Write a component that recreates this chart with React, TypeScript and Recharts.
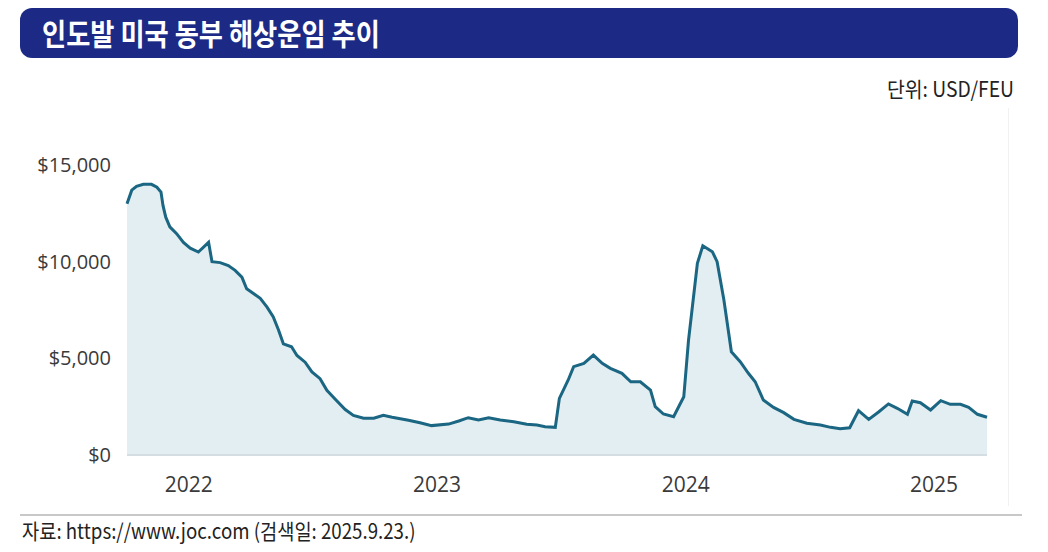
import { AreaChart, Area, XAxis, YAxis } from "recharts";

// India -> US East Coast ocean freight rate (USD/FEU)
const dates = [
  "2022-04-01", "2022-04-08", "2022-04-15", "2022-04-25", "2022-05-07", "2022-05-15",
  "2022-05-21", "2022-05-24", "2022-05-28", "2022-06-03", "2022-06-13", "2022-06-23",
  "2022-07-03", "2022-07-15", "2022-07-30", "2022-08-04", "2022-08-16", "2022-08-28",
  "2022-09-07", "2022-09-17", "2022-09-24", "2022-10-04", "2022-10-14", "2022-10-24",
  "2022-11-02", "2022-11-10", "2022-11-17", "2022-11-29", "2022-12-07", "2022-12-19",
  "2022-12-29", "2023-01-10", "2023-01-20", "2023-02-01", "2023-02-16", "2023-02-28",
  "2023-03-15", "2023-03-30", "2023-04-13", "2023-04-26", "2023-05-20", "2023-06-06",
  "2023-06-23", "2023-07-18", "2023-08-02", "2023-08-16", "2023-08-31", "2023-09-15",
  "2023-10-02", "2023-10-22", "2023-11-10", "2023-11-25", "2023-12-07", "2023-12-22",
  "2023-12-28", "2024-01-10", "2024-01-18", "2024-02-02", "2024-02-16", "2024-02-29",
  "2024-03-12", "2024-03-29", "2024-04-11", "2024-04-25", "2024-05-10", "2024-05-17",
  "2024-05-29", "2024-06-13", "2024-06-28", "2024-07-05", "2024-07-18", "2024-07-26",
  "2024-08-09", "2024-08-16", "2024-08-26", "2024-09-06", "2024-09-19", "2024-10-01",
  "2024-10-11", "2024-10-23", "2024-11-07", "2024-11-22", "2024-12-07", "2024-12-26",
  "2025-01-15", "2025-01-30", "2025-02-13", "2025-02-27", "2025-03-12", "2025-03-27",
  "2025-04-11", "2025-04-25", "2025-05-08", "2025-05-23", "2025-05-30", "2025-06-11",
  "2025-06-26", "2025-07-11", "2025-07-25", "2025-08-09", "2025-08-21", "2025-09-03",
  "2025-09-17",
];

const rates = [
  13000, 13700, 13900, 14000, 14000, 13850,
  13600, 12900, 12300, 11800, 11450, 11000,
  10700, 10500, 11000, 10000, 9950, 9800,
  9550, 9200, 8600, 8350, 8100, 7650,
  7150, 6450, 5750, 5600, 5150, 4800,
  4300, 3950, 3350, 2900, 2350, 2050,
  1900, 1900, 2050, 1950, 1800, 1670,
  1520, 1600, 1760, 1930, 1810, 1930,
  1810, 1720, 1590, 1550, 1465, 1430,
  2930, 3880, 4570, 4740, 5170, 4740,
  4480, 4225, 3790, 3790, 3360, 2500,
  2120, 1980, 3015, 5950, 9915, 10825,
  10515, 10000, 8020, 5340, 4825, 4225,
  3790, 2845, 2460, 2190, 1845, 1640,
  1550, 1430, 1360, 1410, 2290, 1845,
  2240, 2640, 2415, 2105, 2790, 2705,
  2330, 2810, 2620, 2620, 2470, 2105,
  1950,
];

const yearLabels = ["2022", "2023", "2024", "2025"];
const yTicks = [0, 5000, 10000, 15000];

const toTime = (d: string) => Date.parse(d + "T00:00:00Z");

const data = dates.map((d, i) => ({ t: toTime(d), rate: rates[i] }));
// year labels sit at mid-year
const xTicks = yearLabels.map((y) => toTime(`${y}-07-01`));

const tickFont = "'Open Sans', 'Noto Sans', sans-serif";
const krFont = "'Noto Sans CJK KR', 'Noto Sans', sans-serif";

export default function App() {
  return (
    <div
      style={{
        position: "absolute",
        left: 0,
        top: 0,
        width: 1048,
        height: 552,
        background: "#fff",
        overflow: "hidden",
      }}
    >
      {/* title bar */}
      <div
        style={{
          position: "absolute",
          left: 20,
          top: 8,
          width: 998,
          height: 50,
          borderRadius: 12,
          background: "#1c2a86",
        }}
      >
        <span
          style={{
            position: "absolute",
            left: 22,
            top: 5,
            display: "inline-block",
            whiteSpace: "nowrap",
            color: "#fff",
            fontFamily: krFont,
            fontWeight: 700,
            fontSize: 30,
            lineHeight: "38px",
            transform: "scaleX(0.875)",
            transformOrigin: "left center",
          }}
        >
          인도발 미국 동부 해상운임 추이
        </span>
      </div>

      <span
        style={{
          position: "absolute",
          right: 34,
          top: 74,
          display: "inline-block",
          whiteSpace: "nowrap",
          color: "#222",
          fontFamily: krFont,
          fontSize: 21,
          lineHeight: "28px",
          transform: "scaleX(0.92)",
          transformOrigin: "right center",
        }}
      >
        단위: USD/FEU
      </span>

      {/* faint frame edge of the chart picture */}
      <div
        style={{
          position: "absolute",
          left: 1008,
          top: 108,
          width: 1,
          height: 398,
          background: "#f1f1f1",
        }}
      />

      <div style={{ position: "absolute", left: 0, top: 0 }}>
        <AreaChart
          width={1048}
          height={552}
          data={data}
          margin={{ top: 165, right: 61, bottom: 57, left: 17 }}
        >
          <XAxis
            dataKey="t"
            type="number"
            scale="time"
            domain={[data[0].t, data[data.length - 1].t]}
            ticks={xTicks}
            tickFormatter={(v) => String(new Date(v).getUTCFullYear())}
            axisLine={{ stroke: "#d4dde1", strokeWidth: 2 }}
            tickLine={false}
            tickSize={0}
            tickMargin={22}
            height={40}
            tick={{ fill: "#3a3a3a", fontSize: 21, fontFamily: tickFont }}
            interval={0}
          />
          <YAxis
            domain={[0, 15000]}
            ticks={yTicks}
            width={110}
            axisLine={false}
            tickLine={false}
            tickSize={0}
            tickMargin={16}
            tick={{ fill: "#3a3a3a", fontSize: 20, fontFamily: tickFont }}
            tickFormatter={(v) => `$${Number(v).toLocaleString("en-US")}`}
          />
          <Area
            type="linear"
            dataKey="rate"
            stroke="#1b6682"
            strokeWidth={3}
            fill="#e3eef2"
            fillOpacity={1}
            dot={false}
            activeDot={false}
            isAnimationActive={false}
          />
        </AreaChart>
      </div>

      {/* source line */}
      <div
        style={{
          position: "absolute",
          left: 20,
          top: 514,
          width: 1002,
          height: 2,
          background: "#c8c8c8",
        }}
      />
      <span
        style={{
          position: "absolute",
          left: 22,
          top: 516,
          display: "inline-block",
          whiteSpace: "nowrap",
          color: "#222",
          fontFamily: krFont,
          fontSize: 21,
          lineHeight: "28px",
          transform: "scaleX(0.89)",
          transformOrigin: "left center",
        }}
      >
        자료: https://www.joc.com (검색일: 2025.9.23.)
      </span>
    </div>
  );
}
